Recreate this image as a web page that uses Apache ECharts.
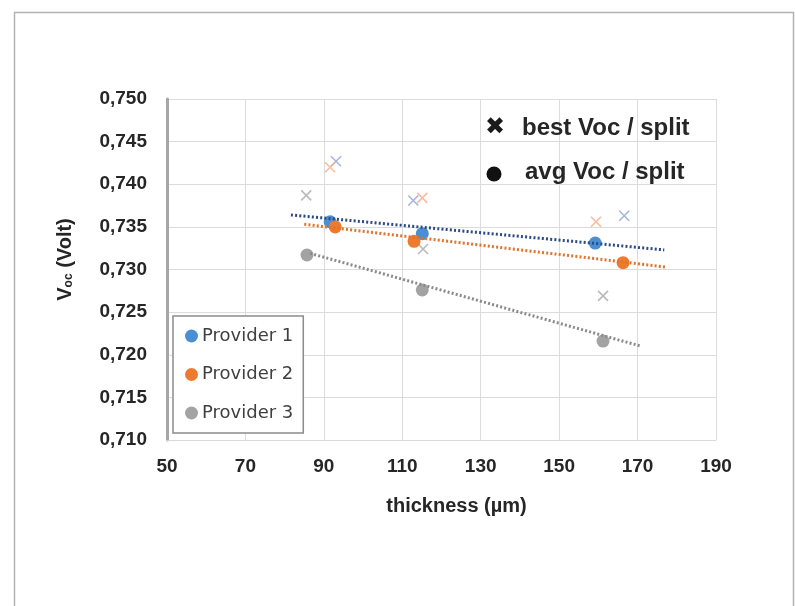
<!DOCTYPE html>
<html>
<head>
<meta charset="utf-8">
<script src="https://cdn.jsdelivr.net/npm/echarts@6/dist/echarts.min.js"></script>
<style>html,body{margin:0;padding:0;background:#fff;}#c{width:795px;height:606px;}</style>
</head>
<body>
<div id="c"></div>
<script>
// ---- data ----
var providers = ['Provider 1', 'Provider 2', 'Provider 3'];
// average Voc per split  [thickness µm, Voc V]
var avgP1 = [[91.6, 0.7356], [115.1, 0.7342], [159.2, 0.7331]];
var avgP2 = [[92.9, 0.7350], [113.0, 0.7333], [166.3, 0.7308]];
var avgP3 = [[85.7, 0.7317], [115.1, 0.7276], [161.2, 0.7216]];
// best Voc per split
var bestP1 = [[93.1, 0.7427], [112.8, 0.7381], [166.6, 0.7363]];
var bestP2 = [[91.6, 0.7420], [115.1, 0.7384], [159.4, 0.7356]];
var bestP3 = [[85.5, 0.7387], [115.3, 0.7324], [161.2, 0.7269]];
// linear trendlines (end points)
var trendP1 = [[81.6, 0.7364], [176.8, 0.7323]];
var trendP2 = [[85.0, 0.7353], [177.0, 0.7303]];
var trendP3 = [[86.5, 0.7319], [170.9, 0.7210]];
// axes
var xMin = 50, xMax = 190, xStep = 20;
var yMin = 0.710, yMax = 0.750, yStep = 0.005;
var xTitle = 'thickness (µm)';
var noteBest = 'best Voc / split';
var noteAvg = 'avg Voc / split';

var avgColors = ['#4a8fd3', '#ee7a2e', '#a3a3a3'];
var bestColors = ['#8ea3d6', '#f2ae84', '#a9a9a9'];
var trendColors = ['#2b4a86', '#e0742c', '#8a8a8a'];

var crossPath = 'path://M0,0 L10,10 M10,0 L0,10';

var avgSets = [avgP1, avgP2, avgP3];
var bestSets = [bestP1, bestP2, bestP3];
var trendSets = [trendP1, trendP2, trendP3];

var series = [];
for (var i = 0; i < 3; i++) {
  series.push({
    name: providers[i] + ' best', type: 'scatter', data: bestSets[i],
    symbol: crossPath, symbolSize: 10, z: 3,
    itemStyle: { color: 'none', borderColor: bestColors[i], borderWidth: 1.6 },
    silent: true
  });
}
for (var i = 0; i < 3; i++) {
  series.push({
    name: providers[i], type: 'scatter', data: avgSets[i],
    symbol: 'circle', symbolSize: 13, z: 4,
    itemStyle: { color: avgColors[i], opacity: 1 }
  });
}
for (var i = 0; i < 3; i++) {
  series.push({
    name: providers[i] + ' trend', type: 'line', data: trendSets[i],
    symbol: 'none', z: 5, silent: true,
    lineStyle: { color: trendColors[i], width: 3, type: [2, 2.2] }
  });
}

var chart = echarts.init(document.getElementById('c'), null, { renderer: 'canvas' });
chart.setOption({
  animation: false,
  backgroundColor: '#ffffff',
  grid: { left: 167, right: 79, top: 99, bottom: 166, containLabel: false },
  xAxis: {
    type: 'value', min: xMin, max: xMax, interval: xStep,
    name: xTitle, nameLocation: 'middle', nameGap: 56,
    nameTextStyle: { fontFamily: 'Liberation Sans', fontWeight: 'bold', fontSize: 20, color: '#262626', padding: [0, 0, 0, 30] },
    axisLine: { show: true, lineStyle: { color: '#d9d9d9', width: 1 } },
    axisTick: { show: false },
    axisLabel: { margin: 17, fontFamily: 'Liberation Sans', fontWeight: 'bold', fontSize: 19, color: '#262626' },
    splitLine: { show: true, lineStyle: { color: '#dcdcdc', width: 1 } }
  },
  yAxis: {
    type: 'value', min: yMin, max: yMax, interval: yStep,
    name: '{v|V}{s|oc}{v| (Volt)}', nameLocation: 'middle', nameGap: 92, nameRotate: 90,
    nameTextStyle: {
      padding: [0, 0, 0, 20],
      rich: {
        v: { fontFamily: 'Liberation Sans', fontWeight: 'bold', fontSize: 20, color: '#262626' },
        s: { fontFamily: 'Liberation Sans', fontWeight: 'bold', fontSize: 12, color: '#262626', verticalAlign: 'bottom', padding: [6, 0, 0, 0] }
      }
    },
    axisLine: { show: true, lineStyle: { color: '#a6a6a6', width: 3 } },
    axisTick: { show: false },
    axisLabel: {
      margin: 20, fontFamily: 'Liberation Sans', fontWeight: 'bold', fontSize: 19, color: '#262626',
      formatter: function (v) { return v.toFixed(3).replace('.', ','); }
    },
    splitLine: { show: true, lineStyle: { color: '#dcdcdc', width: 1 } }
  },
  legend: {
    data: providers, orient: 'vertical', left: 173, top: 316,
    padding: [11, 10, 11, 12], itemGap: 20.5, itemWidth: 13, itemHeight: 13,
    icon: 'circle', borderColor: '#8c8c8c', borderWidth: 1.5, backgroundColor: '#ffffff',
    textStyle: { fontFamily: 'DejaVu Sans', fontSize: 18, color: '#404040', padding: [0, 0, 0, -1] },
    selectedMode: false
  },
  graphic: [
    { type: 'rect', left: 12, top: 10, z: 100, silent: true,
      shape: { x: 0, y: 0, width: 779, height: 620 },
      style: { fill: 'none', stroke: '#b3b3b3', lineWidth: 1.5 } },
    { type: 'text', x: 495, y: 128, z: 100, silent: true,
      style: { text: '✖', fontFamily: 'DejaVu Sans', fontSize: 24, fill: '#1a1a1a', align: 'center', verticalAlign: 'middle' } },
    { type: 'text', x: 522, y: 128, z: 100, silent: true,
      style: { text: noteBest, fontFamily: 'Liberation Sans', fontWeight: 'bold', fontSize: 24, fill: '#262626', align: 'left', verticalAlign: 'middle' } },
    { type: 'circle', x: 494, y: 174, z: 100, silent: true,
      shape: { cx: 0, cy: 0, r: 7.5 }, style: { fill: '#111111' } },
    { type: 'text', x: 525, y: 172, z: 100, silent: true,
      style: { text: noteAvg, fontFamily: 'Liberation Sans', fontWeight: 'bold', fontSize: 24, fill: '#262626', align: 'left', verticalAlign: 'middle' } }
  ],
  series: series
});
</script>
</body>
</html>
